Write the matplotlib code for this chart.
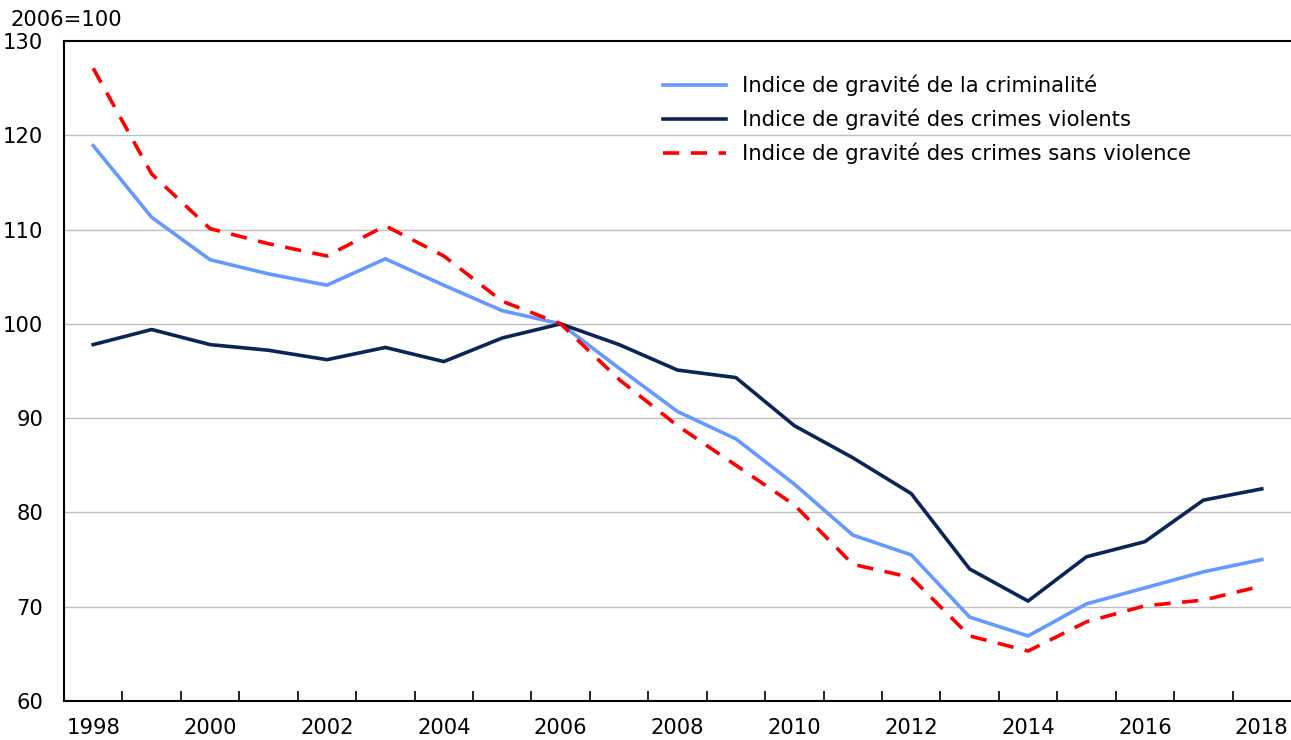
import matplotlib
matplotlib.use("Agg")
import matplotlib.pyplot as plt

years = list(range(1998, 2019))
csi = [118.9, 111.3, 106.8, 105.3, 104.1, 106.9, 104.1, 101.4, 100.0, 95.3,
       90.7, 87.8, 83.0, 77.6, 75.5, 68.9, 66.9, 70.3, 72.0, 73.7, 75.0]
vcsi = [97.8, 99.4, 97.8, 97.2, 96.2, 97.5, 96.0, 98.5, 100.0, 97.8,
        95.1, 94.3, 89.2, 85.8, 82.0, 74.0, 70.6, 75.3, 76.9, 81.3, 82.5]
nvcsi = [127.1, 115.9, 110.1, 108.5, 107.2, 110.4, 107.2, 102.4, 100.0, 94.1,
         89.2, 85.0, 80.8, 74.5, 73.1, 66.9, 65.3, 68.4, 70.1, 70.7, 72.2]
labels = ["Indice de gravité de la criminalité",
          "Indice de gravité des crimes violents",
          "Indice de gravité des crimes sans violence"]
yticks = [60, 70, 80, 90, 100, 110, 120, 130]

FS = 15.2
plt.rcParams['font.family'] = ['DejaVu Sans']
fig = plt.figure(figsize=(12.91, 7.40), dpi=100)
ax = fig.add_axes([64/1291, 39/740, 1 - 64/1291, (701-41)/740])

x = list(range(len(years)))
ax.plot(x, csi, color="#6699FF", lw=2.6, label=labels[0])
ax.plot(x, vcsi, color="#0B2559", lw=2.6, label=labels[1])
ax.plot(x, nvcsi, color="#FF0000", lw=2.6, ls=(0, (4.5, 3.2)), label=labels[2])

ax.set_xlim(-0.5, len(years) - 0.5)
ax.set_ylim(60, 130)
ax.set_yticks(yticks)
ax.set_yticklabels([str(v) for v in yticks], fontsize=FS)
ax.tick_params(axis="y", length=0, pad=15)
for v in yticks[1:-1]:
    ax.axhline(v, color="#BFBFBF", lw=1.0, zorder=0)

ax.set_xticks([i + 0.5 for i in x[:-1]], minor=False)
ax.set_xticklabels([])
ax.set_xticks(x[::2], minor=True)
ax.set_xticklabels([str(y) for y in years[::2]], minor=True, fontsize=FS)
ax.tick_params(axis="x", which="major", direction="in", length=7, width=1.2, color="black")
ax.tick_params(axis="x", which="minor", length=0, pad=12)

for s in ["left", "bottom", "top"]:
    ax.spines[s].set_linewidth(1.5)
    ax.spines[s].set_color("black")
ax.spines["right"].set_visible(False)

fig.text(10/1291, 1 - 20/740, "2006=100", fontsize=FS, va="center", ha="left")

leg = ax.legend(loc="upper left", bbox_to_anchor=((655 - 64) / 1227, 1 - (66 - 41) / 660),
                frameon=False, fontsize=FS, handlelength=2.95, handletextpad=0.75,
                labelspacing=0.6, borderaxespad=0)

fig.savefig("out.png", dpi=100)
